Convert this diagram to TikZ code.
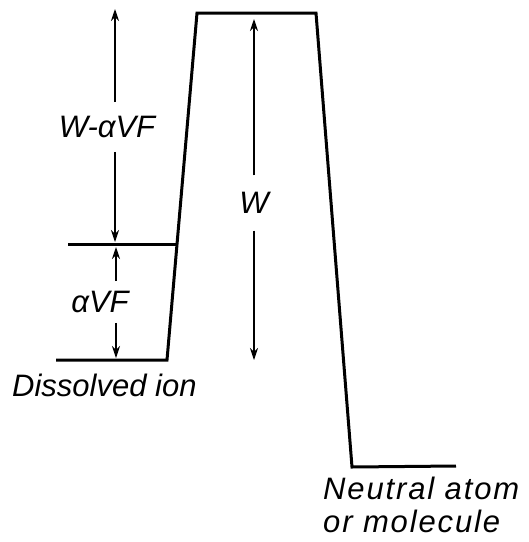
\documentclass[tikz,border=0pt]{standalone}
\usepackage{fontspec}
\setmainfont{Liberation Sans}
\usetikzlibrary{arrows.meta}
\begin{document}
\begin{tikzpicture}[x=1pt,y=-1pt,
  level/.style={line width=3pt,line join=miter},
  dim/.style={line width=1.1pt,-{Stealth[length=12pt,width=8pt]}},
  lab/.style={font=\fontsize{31}{34}\selectfont\itshape,inner sep=0pt},
  lbl/.style={font=\fontsize{31}{33}\selectfont\itshape,inner sep=0pt,align=left}]
\useasboundingbox (0,0) rectangle (529,542);
% profile corners
\coordinate (b0) at (56,360);
\coordinate (b1) at (167,360);
\coordinate (m0) at (68,244);
\coordinate (m1) at (177,244);
\coordinate (t0) at (197,13);
\coordinate (t1) at (316,13);
\coordinate (r0) at (352,467);
\coordinate (r1) at (456,466);
\draw[level] (b0) -- (b1) -- (t0) -- (t1) -- (r0) -- (r1);
\draw[level] (m0) -- (m1);
% arrow anchors
\coordinate (a1t) at (115,9);
\coordinate (a1b) at (115,242);
\coordinate (a2t) at (116,247);
\coordinate (a2b) at (116,358);
\coordinate (wt) at (254,19);
\coordinate (wb) at (254,360);
% labels
\node[lab,outer ysep=14pt] (l1) at (107,127) {W-αVF};
\node[lab,outer ysep=10pt] (l2) at (100,302) {αVF};
\node[lab,outer ysep=17pt] (lw) at (254,203) {W};
\draw[dim] (l1.north -| a1t) -- (a1t);
\draw[dim] (l1.south -| a1b) -- (a1b);
\draw[dim] (l2.north -| a2t) -- (a2t);
\draw[dim] (l2.south -| a2b) -- (a2b);
\draw[dim] (lw.north) -- (wt);
\draw[dim] (lw.south) -- (wb);
\node[lbl,anchor=base west] (dis) at (12,396) {Dissolved ion};
\node[lbl,anchor=north west] (neu) at (323,477) {\addfontfeature{LetterSpace=6}Neutral atom\\\addfontfeature{LetterSpace=6}or molecule};
\end{tikzpicture}
\end{document}
